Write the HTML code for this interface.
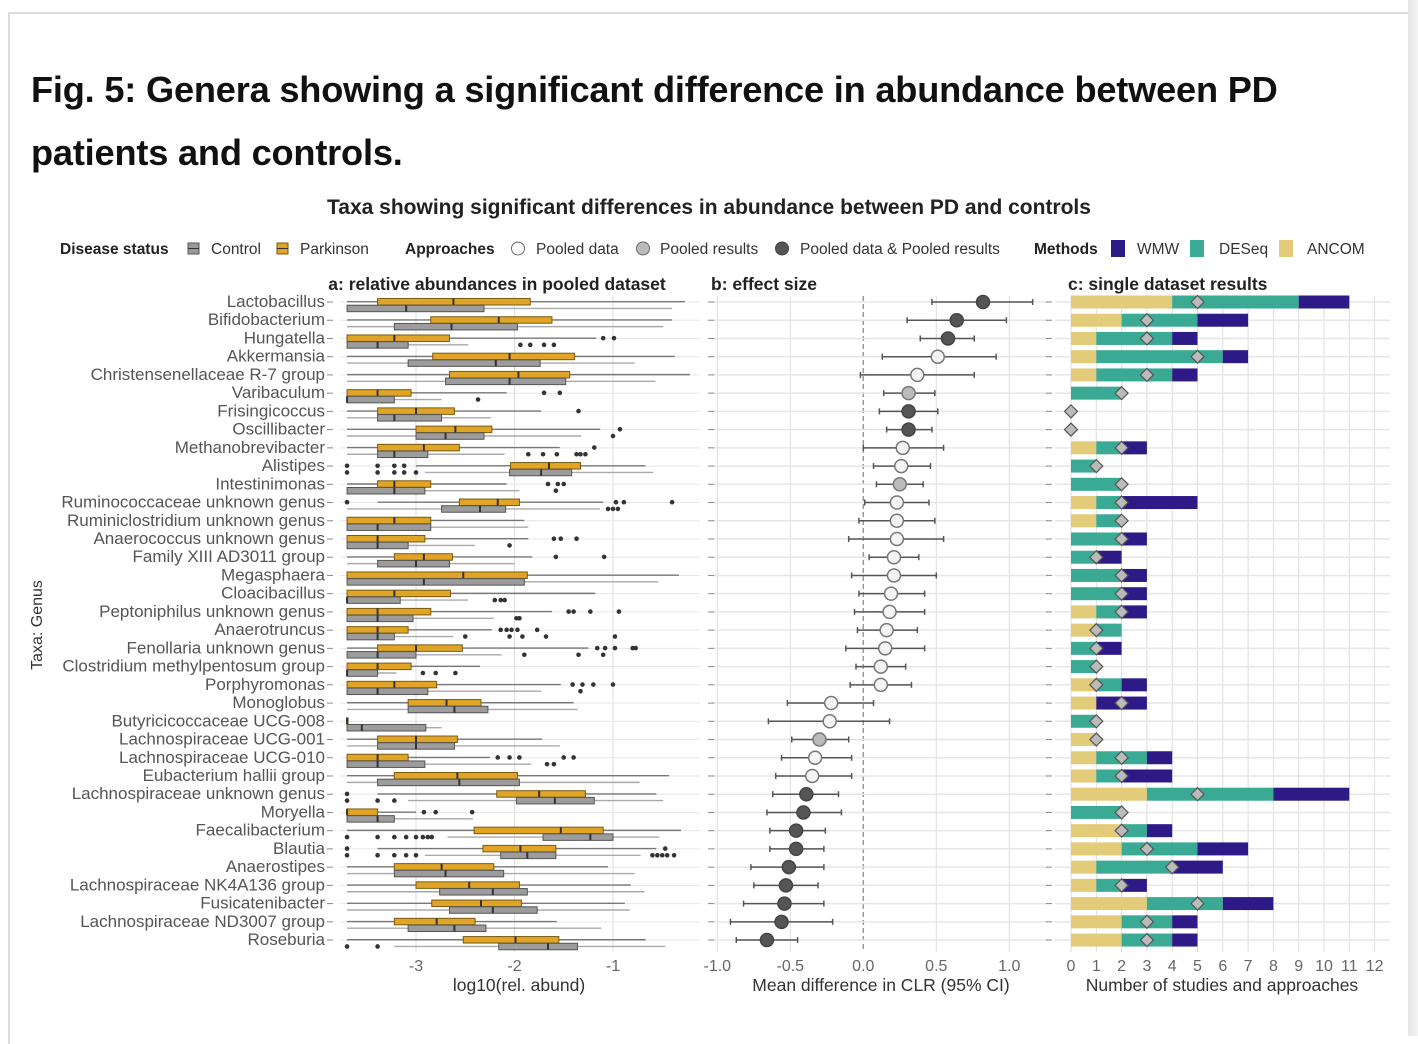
<!DOCTYPE html>
<html><head><meta charset="utf-8">
<style>
html,body{margin:0;padding:0;background:#fff;}
body{width:1418px;height:1036px;overflow:hidden;position:relative;font-family:"Liberation Sans",sans-serif;}
#frame{position:absolute;left:8px;top:12px;width:1400px;height:1030px;border-left:2px solid #ddd;border-top:2px solid #ddd;}
#rstrip{position:absolute;left:1408px;top:0;width:10px;height:1036px;background:linear-gradient(to right,#e6e6e6,#f4f4f4);}
h1{position:absolute;left:31px;top:58px;margin:0;font-size:36.2px;line-height:63px;font-weight:bold;color:#111;width:1300px;letter-spacing:-0.2px;}
svg{position:absolute;left:0;top:0;}
</style></head><body>
<div id="frame"></div>
<div id="rstrip"></div>
<h1>Fig. 5: Genera showing a significant difference in abundance between PD patients and controls.</h1>
<svg id="chart" width="1418" height="1036" font-family="Liberation Sans, sans-serif"></svg>
<script>
const taxa=["Lactobacillus","Bifidobacterium","Hungatella","Akkermansia","Christensenellaceae R-7 group","Varibaculum","Frisingicoccus","Oscillibacter","Methanobrevibacter","Alistipes","Intestinimonas","Ruminococcaceae unknown genus","Ruminiclostridium unknown genus","Anaerococcus unknown genus","Family XIII AD3011 group","Megasphaera","Cloacibacillus","Peptoniphilus unknown genus","Anaerotruncus","Fenollaria unknown genus","Clostridium methylpentosum group","Porphyromonas","Monoglobus","Butyricicoccaceae UCG-008","Lachnospiraceae UCG-001","Lachnospiraceae UCG-010","Eubacterium hallii group","Lachnospiraceae unknown genus","Moryella","Faecalibacterium","Blautia","Anaerostipes","Lachnospiraceae NK4A136 group","Fusicatenibacter","Lachnospiraceae ND3007 group","Roseburia"];
// Parkinson boxes: [lo,q1,med,q3,hi]
const pdBox=[[-3.7,-3.39,-2.62,-1.84,-0.27],[-3.7,-2.85,-2.16,-1.62,-0.40],[-3.7,-3.7,-3.22,-2.66,-1.17],[-3.7,-2.83,-2.05,-1.39,-0.37],[-3.7,-2.66,-1.96,-1.44,-0.22],[-3.7,-3.7,-3.39,-3.05,-2.08],[-3.7,-3.39,-3.0,-2.61,-1.73],[-3.7,-3.0,-2.60,-2.23,-1.13],[-3.7,-3.39,-2.92,-2.56,-1.54],[-3.0,-2.04,-1.65,-1.33,-0.67],[-3.7,-3.39,-3.22,-2.85,-2.08],[-3.39,-2.56,-2.17,-1.95,-1.10],[-3.7,-3.7,-3.22,-2.85,-1.9],[-3.7,-3.7,-3.39,-2.91,-1.86],[-3.7,-3.22,-2.92,-2.63,-1.82],[-3.7,-3.7,-2.52,-1.87,-0.33],[-3.7,-3.7,-3.22,-2.65,-1.18],[-3.7,-3.7,-3.39,-2.85,-1.62],[-3.7,-3.7,-3.39,-3.08,-2.23],[-3.7,-3.39,-3.0,-2.53,-1.25],[-3.7,-3.7,-3.39,-3.05,-2.35],[-3.7,-3.7,-3.22,-2.79,-1.53],[-3.7,-3.08,-2.69,-2.34,-1.4],[-3.7,-3.7,-3.7,-3.7,-3.7],[-3.7,-3.39,-3.0,-2.58,-1.72],[-3.7,-3.7,-3.39,-3.08,-2.25],[-3.7,-3.22,-2.58,-1.97,-0.43],[-3.39,-2.18,-1.75,-1.28,-0.56],[-3.7,-3.7,-3.7,-3.39,-3.0],[-3.7,-2.41,-1.53,-1.1,-0.31],[-3.39,-2.32,-1.94,-1.58,-0.56],[-3.7,-3.22,-2.74,-2.21,-1.05],[-3.7,-3.0,-2.46,-1.95,-0.82],[-3.7,-2.84,-2.34,-1.93,-0.88],[-3.7,-3.22,-2.79,-2.4,-1.57],[-3.7,-2.52,-1.99,-1.55,-0.67]];
// Control boxes
const ctBox=[[-3.7,-3.7,-3.1,-2.31,-0.40],[-3.7,-3.22,-2.64,-1.97,-0.49],[-3.7,-3.7,-3.39,-3.08,-2.47],[-3.7,-3.08,-2.19,-1.74,-0.78],[-3.7,-2.70,-2.05,-1.48,-0.57],[-3.7,-3.7,-3.7,-3.22,-2.74],[-3.7,-3.39,-3.22,-2.74,-2.24],[-3.7,-3.0,-2.70,-2.31,-1.32],[-3.7,-3.39,-3.22,-2.88,-2.1],[-2.91,-2.05,-1.73,-1.42,-0.59],[-3.7,-3.7,-3.22,-2.91,-1.95],[-3.7,-2.74,-2.35,-2.09,-1.13],[-3.7,-3.7,-3.39,-2.85,-1.86],[-3.7,-3.7,-3.39,-3.08,-2.4],[-3.7,-3.39,-3.0,-2.66,-2.0],[-3.7,-3.7,-2.92,-1.9,-0.54],[-3.7,-3.7,-3.7,-3.16,-2.47],[-3.7,-3.7,-3.39,-3.03,-2.21],[-3.7,-3.7,-3.39,-3.22,-2.62],[-3.7,-3.7,-3.39,-3.0,-2.13],[-3.7,-3.7,-3.7,-3.39,-3.2],[-3.7,-3.7,-3.39,-2.88,-1.73],[-3.7,-3.08,-2.61,-2.27,-1.36],[-3.7,-3.7,-3.55,-2.9,-2.74],[-3.7,-3.39,-3.0,-2.61,-1.54],[-3.7,-3.7,-3.39,-2.91,-1.83],[-3.7,-3.39,-2.56,-1.95,-0.73],[-3.08,-1.98,-1.59,-1.19,-0.49],[-3.7,-3.7,-3.39,-3.22,-2.42],[-2.68,-1.71,-1.23,-1.0,-0.53],[-2.91,-2.14,-1.87,-1.58,-0.72],[-3.7,-3.22,-2.70,-2.11,-0.78],[-3.7,-2.76,-2.22,-1.87,-0.68],[-3.7,-2.66,-2.22,-1.77,-0.83],[-3.7,-3.08,-2.61,-2.29,-1.12],[-3.22,-2.16,-1.66,-1.36,-0.47]];
const pdOut=[[],[],[-1.10,-0.99],[],[],[-1.70,-1.54],[-1.35],[-0.93],[-1.19],[-3.7,-3.39,-3.22,-3.12],[-1.66,-1.56,-1.5],[-3.7,-0.97,-0.89,-0.40],[],[-1.6,-1.53,-1.37],[-1.58,-1.09],[],[],[-1.45,-1.4,-1.23,-0.94],[-2.14,-2.08,-2.03,-1.97,-1.77],[-1.16,-1.08,-0.98,-0.8,-0.77],[],[-1.41,-1.31,-1.2,-1.0],[],[],[],[-2.17,-2.05,-1.95,-1.5,-1.4],[],[-3.7],[-2.92,-2.8,-2.43],[],[-3.7,-0.47],[],[],[],[],[]];
const ctOut=[[],[],[-1.94,-1.84,-1.7,-1.6],[],[],[-2.37],[],[-1.0],[-1.86,-1.71,-1.57,-1.37,-1.33,-1.28],[-3.7,-3.39,-3.22,-3.12,-3.0],[-1.58],[-1.05,-1.0,-0.95],[],[-2.05],[],[],[-2.2,-2.14,-2.1],[-1.98,-1.95],[-2.5,-2.05,-1.92,-1.68,-0.98],[-1.9,-1.35,-1.1],[-2.93,-2.8,-2.6],[-1.33],[],[],[],[-1.67,-1.6],[],[-3.7,-3.39,-3.22],[],[-3.7,-3.39,-3.22,-3.1,-3.0,-2.93,-2.88,-2.84],[-3.7,-3.39,-3.22,-3.1,-3.0,-0.6,-0.55,-0.5,-0.45,-0.38],[],[],[],[],[-3.7,-3.39]];
const effMean=[0.82,0.64,0.58,0.51,0.37,0.31,0.31,0.31,0.27,0.26,0.25,0.23,0.23,0.23,0.21,0.21,0.19,0.18,0.16,0.15,0.12,0.12,-0.22,-0.23,-0.30,-0.33,-0.35,-0.39,-0.41,-0.46,-0.46,-0.51,-0.53,-0.54,-0.56,-0.66];
const effLo=[0.47,0.30,0.39,0.13,-0.02,0.14,0.11,0.16,0.0,0.07,0.09,0.01,-0.03,-0.10,0.04,-0.08,-0.03,-0.06,-0.04,-0.12,-0.05,-0.09,-0.52,-0.65,-0.49,-0.56,-0.60,-0.62,-0.66,-0.64,-0.64,-0.77,-0.75,-0.82,-0.91,-0.87];
const effHi=[1.16,0.98,0.76,0.91,0.76,0.49,0.51,0.47,0.55,0.46,0.41,0.45,0.49,0.55,0.38,0.50,0.42,0.42,0.37,0.42,0.29,0.33,0.07,0.18,-0.10,-0.08,-0.08,-0.17,-0.15,-0.26,-0.27,-0.27,-0.31,-0.27,-0.21,-0.45];
// approach: 0 pooled data, 1 pooled results, 2 both
const approach=[2,2,2,0,0,1,2,2,0,0,1,0,0,0,0,0,0,0,0,0,0,0,0,0,1,0,0,2,2,2,2,2,2,2,2,2];
const ancom=[4,2,1,1,1,0,0,0,1,0,0,1,1,0,0,0,0,1,1,0,0,1,1,0,1,1,1,3,0,2,2,1,1,3,2,2];
const deseq=[5,3,3,5,3,2,0,0,1,1,2,1,1,2,1,2,2,1,1,1,1,1,0,1,0,2,1,5,2,1,3,3,1,3,2,2];
const wmw=[2,2,1,1,1,0,0,0,1,0,0,3,0,1,1,1,1,1,0,1,0,1,2,0,0,1,2,3,0,1,2,2,1,2,1,1];
const diamond=[5,3,3,5,3,2,0,0,2,1,2,2,2,2,1,2,2,2,1,1,1,1,2,1,1,2,2,5,2,2,3,4,2,5,3,3];
const aTicks=[-3,-2,-1], bTicks=[-1.0,-0.5,0.0,0.5,1.0], cTicks=[0,1,2,3,4,5,6,7,8,9,10,11,12];

const svg=document.getElementById('chart');
const NS='http://www.w3.org/2000/svg';
function mk(tag,attrs,parent){const e=document.createElementNS(NS,tag);for(const k in attrs)e.setAttribute(k,attrs[k]);(parent||svg).appendChild(e);return e;}
function txt(s,attrs,parent){const e=mk('text',attrs,parent);e.textContent=s;return e;}
const rowY=i=>302+i*18.23;
const xa=v=>416+(v+3)*98.5;
const xb=v=>863.3+v*146;
const xc=v=>1071+v*25.3;
const plotTop=296,plotBot=952;

let t=txt('Taxa showing significant differences in abundance between PD and controls',{x:709,y:214,'text-anchor':'middle','font-size':21,'font-weight':'bold',fill:'#222'});


const lg=mk('g',{});


const LF=15.5;
txt('Disease status',{x:60,y:254,'font-size':LF,'font-weight':'bold',fill:'#222'},lg);
mk('rect',{x:188,y:243,width:11,height:11,fill:'#999',stroke:'#555'},lg);
mk('line',{x1:188,x2:199,y1:248.5,y2:248.5,stroke:'#333'},lg);
txt('Control',{x:211,y:254,'font-size':LF,fill:'#333'},lg);
mk('rect',{x:277,y:243,width:11,height:11,fill:'#E0A526',stroke:'#7a5a10'},lg);
mk('line',{x1:277,x2:288,y1:248.5,y2:248.5,stroke:'#333'},lg);
txt('Parkinson',{x:300,y:254,'font-size':LF,fill:'#333'},lg);
txt('Approaches',{x:405,y:254,'font-size':LF,'font-weight':'bold',fill:'#222'},lg);
mk('circle',{cx:518,cy:248.5,r:6.5,fill:'#fff',stroke:'#666'},lg);
txt('Pooled data',{x:536,y:254,'font-size':LF,fill:'#333'},lg);
mk('circle',{cx:643,cy:248.5,r:6.5,fill:'#bbb',stroke:'#666'},lg);
txt('Pooled results',{x:660,y:254,'font-size':LF,fill:'#333'},lg);
mk('circle',{cx:782,cy:248.5,r:6.5,fill:'#555',stroke:'#444'},lg);
txt('Pooled data & Pooled results',{x:800,y:254,'font-size':LF,fill:'#333'},lg);
txt('Methods',{x:1034,y:254,'font-size':LF,'font-weight':'bold',fill:'#222'},lg);
mk('rect',{x:1111,y:240,width:14,height:17,fill:'#2E1A87'},lg);
txt('WMW',{x:1137,y:254,'font-size':LF,fill:'#333'},lg);
mk('rect',{x:1190,y:240,width:14,height:17,fill:'#3AAA94'},lg);
txt('DESeq',{x:1219,y:254,'font-size':LF,fill:'#333'},lg);
mk('rect',{x:1279,y:240,width:14,height:17,fill:'#E2CC7A'},lg);
txt('ANCOM',{x:1307,y:254,'font-size':LF,fill:'#333'},lg);

txt('a: relative abundances in pooled dataset',{x:497,y:290,'text-anchor':'middle','font-size':17.5,'font-weight':'bold',fill:'#222'});
txt('b: effect size',{x:711,y:290,'font-size':17.5,'font-weight':'bold',fill:'#222'});
txt('c: single dataset results',{x:1068,y:290,'font-size':17.5,'font-weight':'bold',fill:'#222'});

aTicks.forEach(v=>{mk('line',{x1:xa(v),x2:xa(v),y1:plotTop,y2:plotBot,stroke:'#ddd','stroke-width':1});
 const l=txt(String(v),{x:xa(v),y:971,'text-anchor':'middle','font-size':16,fill:'#666'});
 
 });
bTicks.forEach(v=>{if(v!==0)mk('line',{x1:xb(v),x2:xb(v),y1:plotTop,y2:plotBot,stroke:'#ddd','stroke-width':1});
 const l=txt(v.toFixed(1),{x:xb(v),y:971,'text-anchor':'middle','font-size':16,fill:'#666'});
 
 });
mk('line',{x1:xb(0),x2:xb(0),y1:plotTop,y2:plotBot,stroke:'#999','stroke-width':1.5,'stroke-dasharray':'5,3'});
cTicks.forEach(v=>{mk('line',{x1:xc(v),x2:xc(v),y1:plotTop,y2:plotBot,stroke:'#ddd','stroke-width':1});
 const l=txt(String(v),{x:xc(v),y:971,'text-anchor':'middle','font-size':16,fill:'#666'});
 
 });
txt('log10(rel. abund)',{x:519,y:991,'text-anchor':'middle','font-size':17.5,fill:'#333'});
txt('Mean difference in CLR (95% CI)',{x:881,y:991,'text-anchor':'middle','font-size':17.5,fill:'#333'});
txt('Number of studies and approaches',{x:1222,y:991,'text-anchor':'middle','font-size':17.5,fill:'#333'});
t=txt('Taxa: Genus',{x:0,y:0,'text-anchor':'middle','font-size':16,fill:'#333',transform:'translate(42,625) rotate(-90)'});



taxa.forEach((name,i)=>{
 const y=rowY(i);
 const g=mk('g',{});
 
 
 const lab=txt(name,{x:325,y:y+5,'text-anchor':'end','font-size':17,fill:'#555'},g);
 
 
 mk('line',{x1:327,x2:333,y1:y,y2:y,stroke:'#888'},g);
 mk('line',{x1:340,x2:700,y1:y,y2:y,stroke:'#e6e6e6','stroke-width':1},g);
 mk('line',{x1:712,x2:1048,y1:y,y2:y,stroke:'#e6e6e6','stroke-width':1.5},g);
 mk('line',{x1:1055,x2:1390,y1:y,y2:y,stroke:'#e6e6e6','stroke-width':1.5},g);
 mk('line',{x1:708,x2:714,y1:y,y2:y,stroke:'#888'},g);
 mk('line',{x1:1046,x2:1052,y1:y,y2:y,stroke:'#888'},g);
 [[pdBox[i],pdOut[i],y-3.5,'#E0A526','#7a5a10','#777'],[ctBox[i],ctOut[i],y+3.2,'#9c9c9c','#555','#aaa']].forEach(([b,o,by,fill,st,wc],k)=>{
  mk('line',{x1:xa(b[0]),x2:xa(b[4]),y1:by+3.2,y2:by+3.2,stroke:wc,'stroke-width':1.4},g);
  const r=mk('rect',{x:xa(b[1]),y:by,width:Math.max(1,xa(b[3])-xa(b[1])),height:6.5,fill:fill,stroke:st,'stroke-width':1},g);
  
  
  mk('line',{x1:xa(b[2]),x2:xa(b[2]),y1:by,y2:by+6.5,stroke:'#333','stroke-width':2},g);
  o.forEach(v=>{const c=mk('circle',{cx:xa(v),cy:by+3.2,r:2.3,fill:'#333'},g);
   
   });
 });
 mk('line',{x1:xb(effLo[i]),x2:xb(effHi[i]),y1:y,y2:y,stroke:'#555','stroke-width':1.5},g);
 mk('line',{x1:xb(effLo[i]),x2:xb(effLo[i]),y1:y-3,y2:y+3,stroke:'#555','stroke-width':1.5},g);
 mk('line',{x1:xb(effHi[i]),x2:xb(effHi[i]),y1:y-3,y2:y+3,stroke:'#555','stroke-width':1.5},g);
 const fills=['#f4f4f4','#bbb','#555'];
 const pt=mk('circle',{cx:xb(effMean[i]),cy:y,r:6.5,fill:fills[approach[i]],stroke:approach[i]==2?'#444':'#777','stroke-width':1.5},g);
 
 
 let acc=0;
 [[ancom[i],'#E2CC7A','ancom-bar'],[deseq[i],'#3AAA94','deseq-bar'],[wmw[i],'#2E1A87','wmw-bar']].forEach(([v,c,n])=>{
  if(v>0){const r=mk('rect',{x:xc(acc),y:y-6.5,width:xc(acc+v)-xc(acc),height:13,fill:c},g);
   
   }
  acc+=v;});
 const dx=xc(diamond[i]);
 const d=mk('polygon',{points:`${dx},${y-6.5} ${dx+6.5},${y} ${dx},${y+6.5} ${dx-6.5},${y}`,fill:'#bbb',stroke:'#555','stroke-width':1.2},g);
 
 
});
</script>
</body></html>
